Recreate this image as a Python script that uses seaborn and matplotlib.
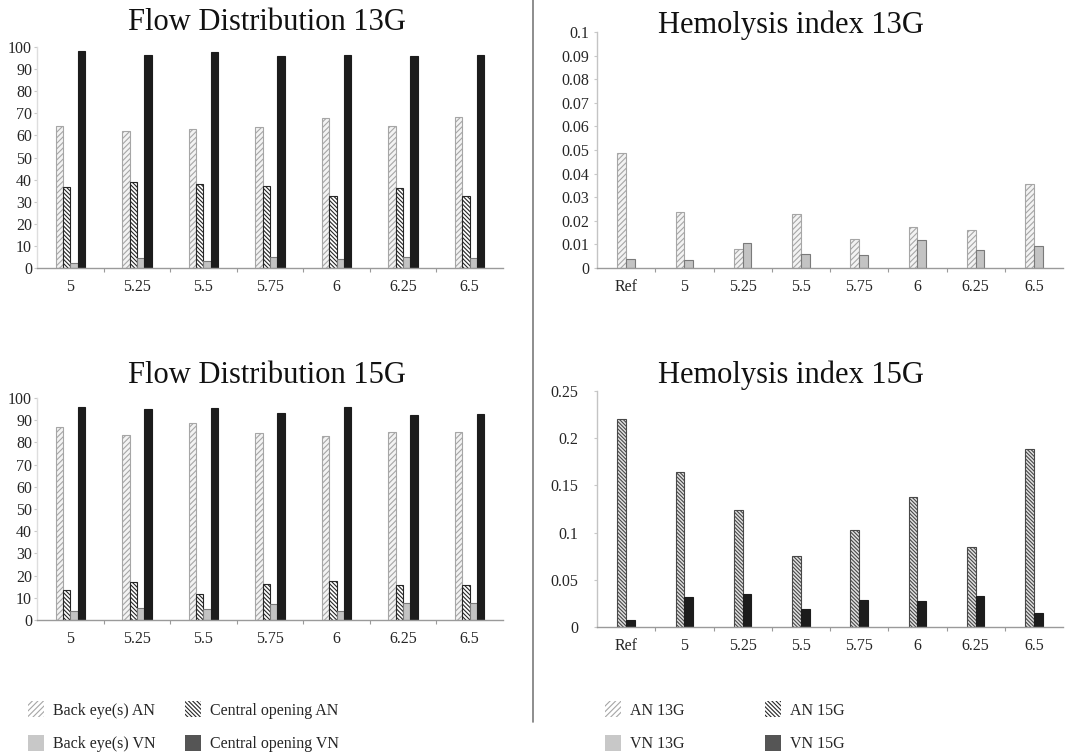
import numpy as np
import pandas as pd
import matplotlib
matplotlib.use("Agg")
import matplotlib.pyplot as plt
import seaborn as sns
from matplotlib.patches import Patch
from matplotlib.lines import Line2D

# ---------------------------------------------------------------- data
sizes = ["5", "5.25", "5.5", "5.75", "6", "6.25", "6.5"]
hemo_sizes = ["Ref", "5", "5.25", "5.5", "5.75", "6", "6.25", "6.5"]

flow_series = ["Back eye(s) AN", "Central opening AN",
               "Back eye(s) VN", "Central opening VN"]
hemo_series13 = ["AN 13G", "VN 13G"]
hemo_series15 = ["AN 15G", "VN 15G"]

flow13_back_an = [64.2, 61.8, 62.9, 63.6, 68.0, 64.2, 68.3]
flow13_central_an = [36.5, 38.9, 38.0, 37.3, 32.8, 36.2, 32.5]
flow13_back_vn = [2.4, 4.4, 3.2, 4.8, 4.2, 5.0, 4.4]
flow13_central_vn = [98.3, 96.5, 97.6, 96.1, 96.5, 96.1, 96.4]

flow15_back_an = [86.8, 83.5, 88.7, 84.2, 83.0, 84.8, 84.8]
flow15_central_an = [13.5, 17.0, 11.7, 16.1, 17.4, 15.6, 15.6]
flow15_back_vn = [4.2, 5.4, 5.0, 7.1, 4.2, 7.7, 7.7]
flow15_central_vn = [96.1, 95.0, 95.3, 93.1, 95.9, 92.3, 92.6]

hemo13_an = [0.0489, 0.0239, 0.0081, 0.0228, 0.0125, 0.0173, 0.0163, 0.0358]
hemo13_vn = [0.0038, 0.0033, 0.0108, 0.0058, 0.0055, 0.0119, 0.0075, 0.0092]
hemo15_an = [0.2206, 0.1638, 0.1241, 0.0755, 0.1028, 0.1376, 0.0851, 0.1890]
hemo15_vn = [0.0071, 0.0319, 0.0348, 0.0191, 0.0291, 0.0277, 0.0330, 0.0145]

flow_ticks = [0, 10, 20, 30, 40, 50, 60, 70, 80, 90, 100]
hemo13_ticks = [0, 0.01, 0.02, 0.03, 0.04, 0.05, 0.06, 0.07, 0.08, 0.09, 0.1]
hemo15_ticks = [0, 0.05, 0.1, 0.15, 0.2, 0.25]

# ---------------------------------------------------------------- style
sns.set_style("white")
plt.rcParams["font.family"] = ["Liberation Serif", "DejaVu Serif"]
plt.rcParams["hatch.linewidth"] = 0.8

LIGHT_HATCH = dict(fc="#f3f3f3", ec="#a6a6a6", hatch="//////", lw=0.8)
DARK_HATCH = dict(fc="#ffffff", ec="#262626", hatch="\\" * 8, lw=0.8)
MID_HATCH = dict(fc="#e2e2e2", ec="#484848", hatch="\\" * 9, lw=0.8)
GRAY = dict(fc="#c3c3c3", ec="#7a7a7a", hatch=None, lw=0.8)
BLACK = dict(fc="#1c1c1c", ec="#1c1c1c", hatch=None, lw=0.8)

W, H = 1065, 754
fig = plt.figure(figsize=(W / 100, H / 100), dpi=100)


def px_axes(left, top, right, bottom):
    return fig.add_axes([left / W, 1 - bottom / H, (right - left) / W, (bottom - top) / H])


def long_frame(cats, series, columns):
    rows = []
    for name, vals in zip(series, columns):
        for c, v in zip(cats, vals):
            rows.append({"size": c, "series": name, "value": v})
    return pd.DataFrame(rows)


def bar_panel(ax, cats, series, columns, styles, width, ticks, ylim,
              left_spine_color, label_pad):
    df = long_frame(cats, series, columns)
    sns.barplot(data=df, x="size", y="value", hue="series", order=cats,
                hue_order=series, width=width, saturation=1,
                palette=[s["fc"] for s in styles], legend=False, ax=ax)
    for cont, st in zip(ax.containers, styles):
        for p in cont.patches:
            p.set_facecolor(st["fc"])
            p.set_edgecolor(st["ec"])
            p.set_linewidth(st["lw"])
            if st["hatch"]:
                p.set_hatch(st["hatch"])
    n = len(cats)
    ax.set_xlim(-0.5, n - 0.5)
    ax.set_ylim(*ylim)
    ax.set_xlabel("")
    ax.set_ylabel("")
    ax.set_yticks(ticks, [f"{t:g}" for t in ticks])
    ax.set_xticks(np.arange(0.5, n - 1, 1), minor=True)
    ax.tick_params(axis="x", which="major", length=0, pad=8, labelsize=11.5)
    ax.tick_params(axis="x", which="minor", length=3, width=0.8,
                   color="#9a9a9a", direction="out", bottom=True)
    ax.tick_params(axis="y", length=2.5, width=0.8, color="#c8c8c8",
                   direction="out", left=True, pad=label_pad, labelsize=11.5)
    for side in ("top", "right"):
        ax.spines[side].set_visible(False)
    ax.spines["bottom"].set_color("#9a9a9a")
    ax.spines["bottom"].set_linewidth(1.0)
    ax.spines["left"].set_color(left_spine_color)
    ax.spines["left"].set_linewidth(1.0)
    ax.set_facecolor("none")


flow_styles = [LIGHT_HATCH, DARK_HATCH, GRAY, BLACK]

ax1 = px_axes(37, 47, 503, 268)
bar_panel(ax1, sizes, flow_series,
          [flow13_back_an, flow13_central_an, flow13_back_vn, flow13_central_vn],
          flow_styles, 0.44, flow_ticks, (0, 100), "#dedede", 1)

ax3 = px_axes(37, 398, 503, 620)
bar_panel(ax3, sizes, flow_series,
          [flow15_back_an, flow15_central_an, flow15_back_vn, flow15_central_vn],
          flow_styles, 0.44, flow_ticks, (0, 100), "#dedede", 1)

ax2 = px_axes(597, 32, 1063, 268)
bar_panel(ax2, hemo_sizes, hemo_series13, [hemo13_an, hemo13_vn],
          [LIGHT_HATCH, GRAY], 0.30, hemo13_ticks, (0, 0.1), "#c4c4c4", 3)

ax4 = px_axes(597, 391, 1063, 627)
bar_panel(ax4, hemo_sizes, hemo_series15, [hemo15_an, hemo15_vn],
          [MID_HATCH, BLACK], 0.30, hemo15_ticks, (0, 0.25), "#c4c4c4", 11)

# ---------------------------------------------------------------- titles
title_kw = dict(ha="center", va="baseline", fontsize=22, color="#111111")
fig.text(267 / W, 1 - 30 / H, "Flow Distribution 13G", **title_kw)
fig.text(267 / W, 1 - 383 / H, "Flow Distribution 15G", **title_kw)
fig.text(791 / W, 1 - 33 / H, "Hemolysis index 13G", **title_kw)
fig.text(791 / W, 1 - 383 / H, "Hemolysis index 15G", **title_kw)

# vertical divider between the two halves
fig.add_artist(Line2D([533 / W, 533 / W], [1 - 722 / H, 1.0],
                      transform=fig.transFigure, color="#7a7a7a", lw=1.2))

# ---------------------------------------------------------------- legends
def lg_handle(st, fc=None):
    return Patch(facecolor=fc or st["fc"], edgecolor=st["ec"],
                 hatch=st["hatch"], linewidth=0)


leg_kw = dict(loc="upper left", frameon=False, fontsize=11.5,
              handlelength=1.0, handleheight=1.2, handletextpad=0.55,
              labelspacing=1.0, borderpad=0, borderaxespad=0)

legend_cols = [
    (28, [lg_handle(LIGHT_HATCH, "#ffffff"), lg_handle(GRAY, "#c8c8c8")],
     ["Back eye(s) AN", "Back eye(s) VN"]),
    (185, [lg_handle(DARK_HATCH), lg_handle(BLACK, "#555555")],
     ["Central opening AN", "Central opening VN"]),
    (605, [lg_handle(LIGHT_HATCH, "#ffffff"), lg_handle(GRAY, "#c8c8c8")],
     ["AN 13G", "VN 13G"]),
    (765, [lg_handle(DARK_HATCH), lg_handle(BLACK, "#555555")],
     ["AN 15G", "VN 15G"]),
]
for x0, handles, labels in legend_cols:
    fig.legend(handles=handles, labels=labels,
               bbox_to_anchor=(x0 / W, 1 - 701 / H), **leg_kw)

fig.savefig("out.png", dpi=100)
